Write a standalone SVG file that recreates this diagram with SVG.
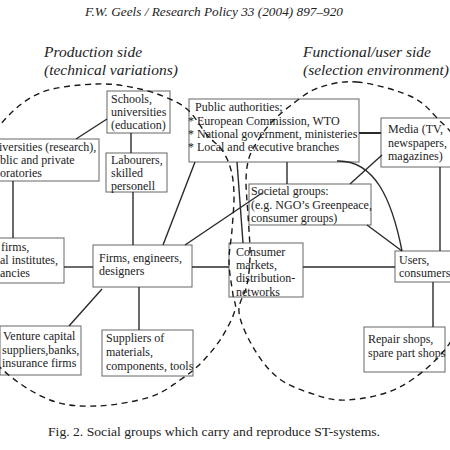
<svg xmlns="http://www.w3.org/2000/svg" width="450" height="450" viewBox="0 0 450 450">
<style>
text{font-family:"Liberation Serif","Times New Roman",serif;fill:#222;}
.t{font-size:12px;}
.h{font-size:15.5px;font-style:italic;}
.box{fill:#fff;stroke:#666;stroke-width:1;}
.c{stroke:#2a2a2a;stroke-width:1.4;fill:none;}
.d{stroke:#1a1a1a;stroke-width:1.4;fill:none;stroke-dasharray:6 4.5;}
</style>
<rect width="450" height="450" fill="#fff"/>
<text x="85" y="16" style="font-size:12.5px;font-style:italic" textLength="258" lengthAdjust="spacingAndGlyphs">F.W. Geels / Research Policy 33 (2004) 897–920</text>
<text class="h" x="44" y="57">Production side</text>
<text class="h" x="44" y="75">(technical variations)</text>
<text class="h" x="303" y="57">Functional/user side</text>
<text class="h" x="303" y="75" textLength="146" lengthAdjust="spacingAndGlyphs">(selection environment)</text>

<g id="schools"><rect class="box" x="107" y="91" width="63" height="42"/>
<text class="t" x="111" y="103">Schools,</text><text class="t" x="111" y="116">universities</text><text class="t" x="111" y="129">(education)</text></g>
<g id="universities"><rect class="box" x="-2" y="139" width="101" height="42"/>
<text class="t" x="-1" y="151">iversities (research),</text><text class="t" x="0" y="164">blic and private</text><text class="t" x="0" y="177">oratories</text></g>
<g id="labourers"><rect class="box" x="106" y="153" width="61" height="39"/>
<text class="t" x="111" y="164">Labourers,</text><text class="t" x="111" y="177">skilled</text><text class="t" x="111" y="190">personell</text></g>
<g id="public"><rect class="box" x="189" y="99" width="170" height="63"/>
<text class="t" x="195" y="111">Public authorities;</text><text class="t" x="188" y="125">* European Commission, WTO</text><text class="t" x="188" y="138">* National government, ministeries</text><text class="t" x="188" y="151">* Local and executive branches</text></g>
<g id="media"><rect class="box" x="381" y="118" width="72" height="49"/>
<text class="t" x="388" y="133">Media (TV,</text><text class="t" x="388" y="147">newspapers,</text><text class="t" x="388" y="160">magazines)</text></g>
<g id="societal"><rect class="box" x="249" y="184" width="122" height="41"/>
<text class="t" x="251" y="195">Societal groups:</text><text class="t" x="251" y="209">(e.g. NGO’s Greenpeace,</text><text class="t" x="251" y="222">consumer groups)</text></g>
<g id="firmsleft"><rect class="box" x="-2" y="238" width="66" height="45"/>
<text class="t" x="1" y="251">firms,</text><text class="t" x="0" y="264">al institutes,</text><text class="t" x="0" y="277">ancies</text></g>
<g id="firms"><rect class="box" x="93" y="245" width="99" height="42"/>
<text class="t" x="99" y="262">Firms, engineers,</text><text class="t" x="99" y="275">designers</text></g>
<g id="venture"><rect class="box" x="0" y="326" width="81" height="49"/>
<text class="t" x="3" y="340">Venture capital</text><text class="t" x="2" y="354">suppliers,banks,</text><text class="t" x="2" y="367">insurance firms</text></g>
<g id="suppliers"><rect class="box" x="102" y="330" width="91" height="46"/>
<text class="t" x="106" y="342">Suppliers of</text><text class="t" x="106" y="356">materials,</text><text class="t" x="106" y="370">components, tools</text></g>
<g id="consumer"><rect class="box" x="229" y="243" width="74" height="54"/>
<text class="t" x="236" y="256">Consumer</text><text class="t" x="236" y="269">markets,</text><text class="t" x="236" y="282">distribution-</text><text class="t" x="236" y="296">networks</text></g>
<g id="users"><rect class="box" x="395" y="251" width="58" height="31"/>
<text class="t" x="399" y="264">Users,</text><text class="t" x="399" y="277">consumers</text></g>
<g id="repair"><rect class="box" x="364" y="327" width="81" height="45"/>
<text class="t" x="368" y="343">Repair shops,</text><text class="t" x="368" y="357">spare part shops</text></g>

<g id="connectors">
<line class="c" x1="76" y1="139" x2="107" y2="119"/>
<line class="c" x1="131" y1="133" x2="131" y2="153"/>
<line class="c" x1="13" y1="181" x2="13" y2="238"/>
<line class="c" x1="133" y1="192" x2="133" y2="245"/>
<line class="c" x1="195" y1="162" x2="163" y2="245"/>
<line class="c" x1="185" y1="245" x2="262" y2="193"/>
<line class="c" x1="64" y1="267" x2="93" y2="267"/>
<line class="c" x1="102" y1="289" x2="69" y2="326"/>
<line class="c" x1="139" y1="287" x2="139" y2="330"/>
<line class="c" x1="192" y1="267" x2="229" y2="267"/>
<line class="c" x1="237" y1="162" x2="243" y2="243"/>
<line class="c" x1="287" y1="162" x2="287" y2="184"/>
<line class="c" x1="359" y1="133" x2="381" y2="133" style="stroke-width:2"/>
<line class="c" x1="382" y1="155" x2="350" y2="184"/>
<line class="c" x1="440" y1="167" x2="440" y2="251"/>
<path class="c" d="M337,161 C375,160 392,200 402,251"/>
<line class="c" x1="367" y1="225" x2="402" y2="251"/>
<line class="c" x1="303" y1="267" x2="395" y2="267"/>
<line class="c" x1="433" y1="282" x2="433" y2="327"/>
</g>

<g id="production-side">
<path class="d" d="M-40,250 C-40,223.3 -31.7,190.8 -25,170 S-10.8,137.8 0,125 S23.8,99.8 40,93 S80.3,84.7 97,84 S127.5,86.3 140,89 S163.7,96.2 172,100 S184.2,106.2 190,112 S201.7,128.7 207,135 S218,144.2 222,150 S229,162.5 231,170 S233.8,185 234,195 S232.8,218.8 232,230 S228.8,251.2 229,262 S232,287 233,295 S236.8,303 235,310 S227.5,328.3 222,337 S209,354.8 202,362 S188.7,374.2 180,380 S163.8,392.7 150,397 S113.7,405.5 97,406 S65.7,406 50,400 S15.5,381.7 3,370 S-17.8,350 -25,330 S-40,276.7 -40,250 Z"/>
</g>
<g id="user-side">
<path class="d" d="M357,82 C372.3,83.3 396.7,90 410,96 S428.7,109 437,118 S454.2,131.3 460,150 S471.2,205 472,230 S469.2,280.5 465,300 S457.8,332.5 447,347 S416.7,378.2 400,387 S362,399 347,400 S321.7,396.8 310,393 S286.5,384.7 277,377 S259.3,357.8 253,347 S240,322.3 239,312 S245.2,294.5 247,285 S249.8,266.7 250,255 S248.7,227.5 248,215 S245.8,189.5 246,180 S247.2,164.3 249,158 S253.5,147.7 257,142 S264.5,130 270,124 S282,112 290,106 S306.8,92 318,88 S341.7,80.7 357,82 Z"/>
</g>

<text x="48" y="436" style="font-size:12.5px" textLength="332" lengthAdjust="spacingAndGlyphs">Fig. 2. Social groups which carry and reproduce ST-systems.</text>
</svg>
